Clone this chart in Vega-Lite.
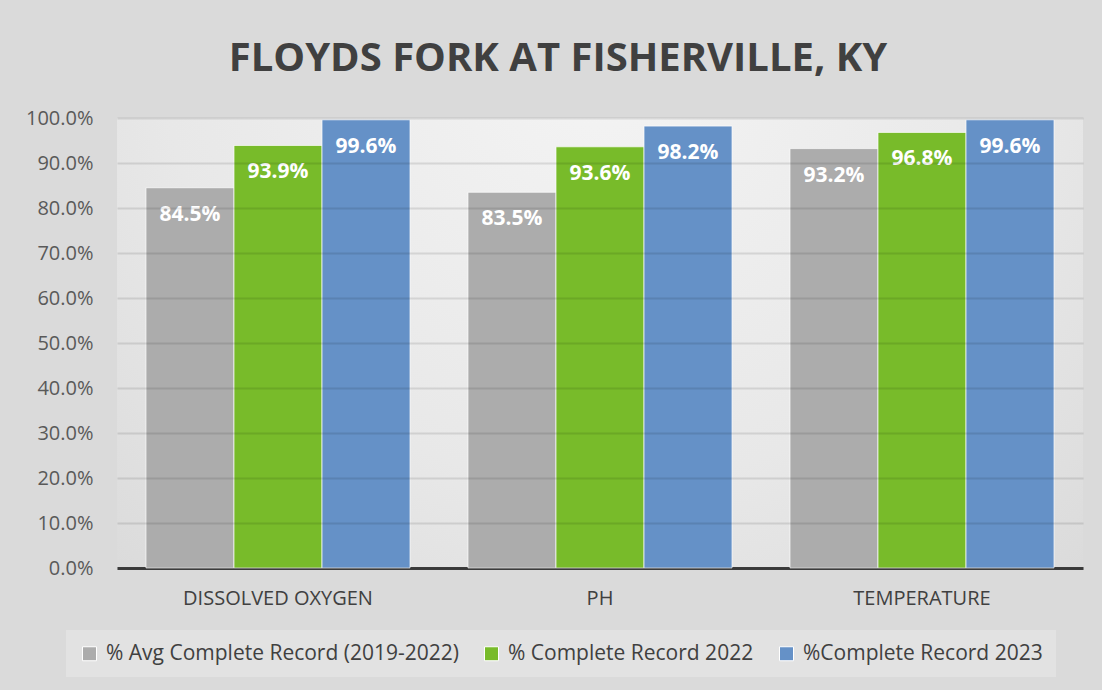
{
  "$schema": "https://vega.github.io/schema/vega-lite/v6.json",
  "width": 966,
  "height": 450,
  "autosize": {"type": "none"},
  "padding": {"left": 117, "top": 118, "right": 19, "bottom": 122},
  "background": "#dadada",
  "title": {
    "text": "FLOYDS FORK AT FISHERVILLE, KY",
    "font": "Open Sans",
    "fontSize": 40,
    "fontWeight": "bold",
    "color": "#404040",
    "anchor": "middle",
    "baseline": "alphabetic",
    "dx": -42,
    "offset": -3
  },
  "config": {
    "view": {
      "stroke": null,
      "fill": {
        "gradient": "radial",
        "x1": 0.5, "y1": 0.2, "r1": 0,
        "x2": 0.5, "y2": 0.2, "r2": 0.9,
        "stops": [
          {"offset": 0, "color": "#f4f4f4"},
          {"offset": 0.5, "color": "#e8e8e8"},
          {"offset": 1, "color": "#d3d3d3"}
        ]
      }
    }
  },
  "data": {
    "values": [
      {"category": "DISSOLVED OXYGEN", "series": "% Avg Complete Record (2019-2022)", "value": 0.845},
      {"category": "DISSOLVED OXYGEN", "series": "% Complete Record 2022", "value": 0.939},
      {"category": "DISSOLVED OXYGEN", "series": "%Complete Record 2023", "value": 0.996},
      {"category": "PH", "series": "% Avg Complete Record (2019-2022)", "value": 0.835},
      {"category": "PH", "series": "% Complete Record 2022", "value": 0.936},
      {"category": "PH", "series": "%Complete Record 2023", "value": 0.982},
      {"category": "TEMPERATURE", "series": "% Avg Complete Record (2019-2022)", "value": 0.932},
      {"category": "TEMPERATURE", "series": "% Complete Record 2022", "value": 0.968},
      {"category": "TEMPERATURE", "series": "%Complete Record 2023", "value": 0.996}
    ]
  },
  "encoding": {
    "x": {
      "field": "category",
      "type": "nominal",
      "sort": null,
      "scale": {"paddingInner": 0.18, "paddingOuter": 0.09},
      "axis": {
        "title": null,
        "labelAngle": 0,
        "labelFont": "Open Sans",
        "labelFontSize": 20,
        "labelColor": "#404040",
        "labelPadding": 20,
        "labelLimit": 500,
        "ticks": false,
        "domainColor": "#404040",
        "domainWidth": 3,
        "grid": false
      }
    },
    "xOffset": {
      "field": "series",
      "type": "nominal",
      "sort": null,
      "scale": {"paddingInner": 0, "paddingOuter": 0}
    },
    "y": {
      "field": "value",
      "type": "quantitative",
      "scale": {"domain": [0, 1], "nice": false},
      "axis": {
        "title": null,
        "values": [0, 0.1, 0.2, 0.3, 0.4, 0.5, 0.6, 0.7, 0.8, 0.9, 1.0],
        "format": ".1%",
        "labelFont": "Open Sans",
        "labelFontSize": 20,
        "labelColor": "#595959",
        "labelPadding": 24,
        "ticks": false,
        "domain": false,
        "gridColor": "#000000",
        "gridOpacity": 0.1,
        "gridWidth": 2,
        "zindex": 1
      }
    }
  },
  "layer": [
    {
      "mark": {"type": "bar", "stroke": "#ffffff", "strokeWidth": 1, "strokeOpacity": 0.7},
      "encoding": {
        "color": {
          "field": "series",
          "type": "nominal",
          "sort": null,
          "scale": {
            "domain": ["% Avg Complete Record (2019-2022)", "% Complete Record 2022", "%Complete Record 2023"],
            "range": ["#acacac", "#78bb2a", "#6591c7"]
          },
          "legend": {
            "title": null,
            "orient": "none",
            "legendX": -51,
            "legendY": 512,
            "direction": "horizontal",
            "symbolType": "square",
            "symbolSize": 196,
            "symbolStrokeColor": "#ffffff",
            "symbolStrokeWidth": 1,
            "symbolOpacity": 1,
            "labelFont": "Open Sans",
            "labelFontSize": 21,
            "labelColor": "#404040",
            "labelLimit": 500,
            "labelOffset": 6,
            "columnPadding": 22,
            "fillColor": "#e2e2e2",
            "padding": 13
          }
        }
      }
    },
    {
      "mark": {
        "type": "text",
        "baseline": "middle",
        "dy": 27,
        "font": "Open Sans",
        "fontSize": 21,
        "fontWeight": "bold",
        "color": "#ffffff"
      },
      "encoding": {
        "text": {"field": "value", "type": "quantitative", "format": ".1%"}
      }
    }
  ]
}
